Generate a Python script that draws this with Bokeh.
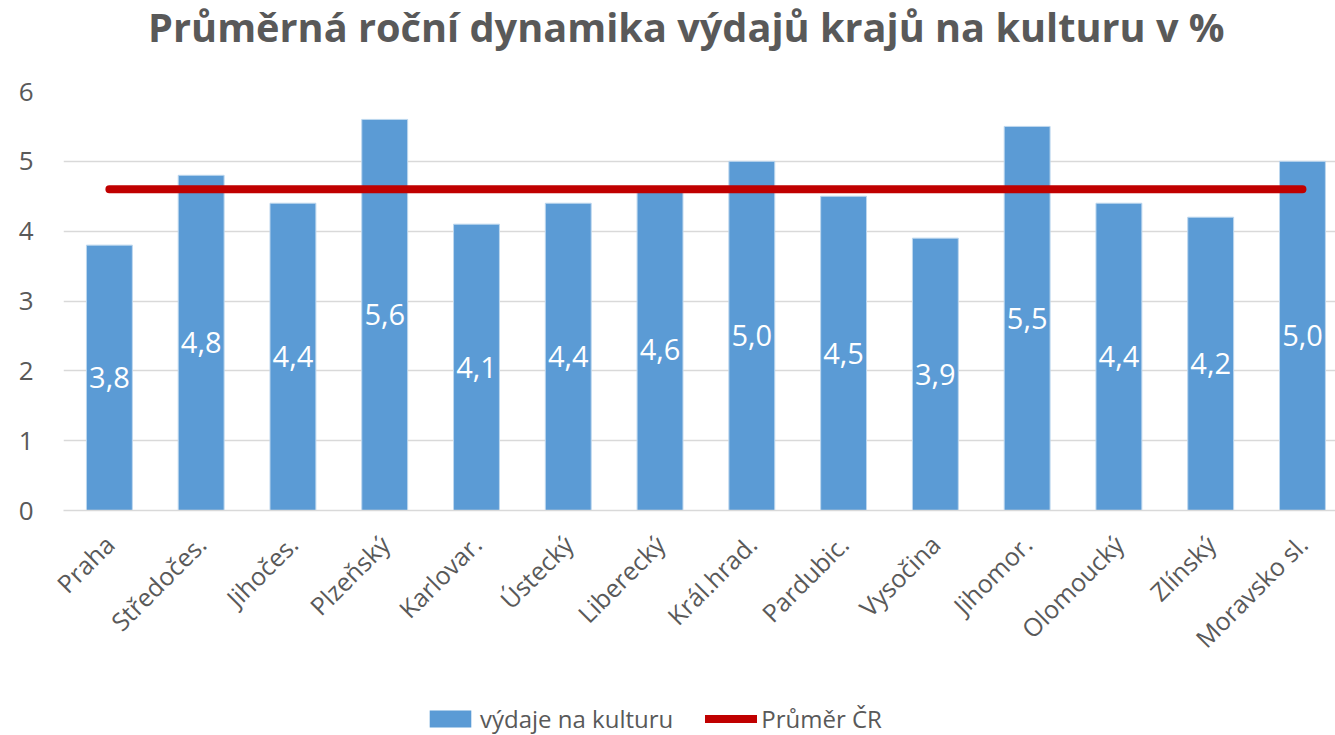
import math
from bokeh.plotting import figure
from bokeh.layouts import column
from bokeh.models import (Range1d, FixedTicker, Legend, LegendItem,
                          ColumnDataSource, LabelSet, Label)
from bokeh.core.properties import value
from bokeh.embed import file_html
from bokeh.resources import INLINE

# ---- data ----
categories = ["Praha", "Středočes.", "Jihočes.", "Plzeňský", "Karlovar.",
              "Ústecký", "Liberecký", "Král.hrad.", "Pardubic.", "Vysočina",
              "Jihomor.", "Olomoucký", "Zlínský", "Moravsko sl."]
spending = [3.8, 4.8, 4.4, 5.6, 4.1, 4.4, 4.6, 5.0, 4.5, 3.9, 5.5, 4.4, 4.2, 5.0]
average_cr = [4.6, 4.6, 4.6, 4.6, 4.6, 4.6, 4.6, 4.6, 4.6, 4.6, 4.6, 4.6, 4.6, 4.6]
y_ticks = [0, 1, 2, 3, 4, 5, 6]
title_text = "Průměrná roční dynamika  výdajů krajů na kulturu v %"
series_names = ["výdaje na kulturu", "Průměr ČR"]

FONT = "Open Sans"
GREY = "#595959"
BLUE = "#5B9BD5"
RED = "#C00000"
W = 1335
FRAME_LEFT = 63   # frames of the stacked figures are aligned to this edge


def bare(fig):
    fig.outline_line_color = None
    for g in fig.grid:
        g.visible = False
    return fig


idx = list(range(len(categories)))
src = ColumnDataSource(dict(
    x=idx,
    top=spending,
    avg=average_cr,
    mid=[v / 2 for v in spending],
    lbl=[f"{v:.1f}".replace(".", ",") for v in spending],
))

# ---- title strip ----
tfig = bare(figure(width=W, height=70, x_range=Range1d(FRAME_LEFT, W),
                   y_range=Range1d(0, 70),
                   x_axis_location=None, y_axis_location=None,
                   output_backend="svg", toolbar_location=None,
                   min_border=0))
tfig.add_layout(Label(x=691, y=44, text=title_text, text_align="center",
                      text_baseline="alphabetic", text_font=FONT,
                      text_font_style="bold", text_font_size="39.7px",
                      text_color=GREY))

# ---- main chart ----
p = figure(width=W, height=625,
           x_range=Range1d(-0.5, 13.36), y_range=Range1d(0, 6),
           output_backend="svg", toolbar_location=None,
           min_border_left=FRAME_LEFT, min_border_right=0,
           min_border_top=21, min_border_bottom=185)

p.vbar(x="x", top="top", width=0.5, source=src,
       fill_color=BLUE, line_color="#BDD7EE", line_width=1)
p.line(x="x", y="avg", source=src, line_color=RED, line_width=8,
       line_cap="round")

p.add_layout(LabelSet(x="x", y="mid", text="lbl", source=src,
                      text_align="center", text_baseline="middle",
                      text_color="white", text_font=value(FONT),
                      text_font_size="29px"))

p.yaxis.ticker = FixedTicker(ticks=y_ticks)
p.yaxis.axis_line_color = None
p.yaxis.major_tick_line_color = None
p.yaxis.minor_tick_line_color = None
p.yaxis.major_tick_out = 0
p.yaxis.major_label_text_font = FONT
p.yaxis.major_label_text_font_size = "26px"
p.yaxis.major_label_text_color = GREY
p.yaxis.major_label_standoff = 30

p.xaxis.ticker = FixedTicker(ticks=idx)
p.xaxis.major_label_overrides = {i: c for i, c in zip(idx, categories)}
p.xaxis.major_label_orientation = math.pi / 4
p.xaxis.axis_line_color = "#D9D9D9"
p.xaxis.axis_line_width = 1.5
p.xaxis.major_tick_line_color = None
p.xaxis.minor_tick_line_color = None
p.xaxis.major_tick_out = 0
p.xaxis.major_label_text_font = FONT
p.xaxis.major_label_text_font_size = "25px"
p.xaxis.major_label_text_color = GREY
p.xaxis.major_label_standoff = 29

p.xgrid.grid_line_color = None
p.ygrid.grid_line_color = "#D9D9D9"
p.ygrid.grid_line_width = 1.3
p.outline_line_color = None

# ---- legend strip (same series, view range kept off the data) ----
lfig = bare(figure(width=W, height=40, x_range=Range1d(-100, -99),
                   y_range=Range1d(-100, -99),
                   x_axis_location=None, y_axis_location=None,
                   output_backend="svg", toolbar_location=None,
                   min_border=0))
lbar = lfig.vbar(x="x", top="top", width=0.5, source=src,
                 fill_color=BLUE, line_color=None)
lline = lfig.line(x="x", y="avg", source=src, line_color=RED,
                  line_width=8, line_cap="round")
legend = Legend(items=[LegendItem(label=series_names[0], renderers=[lbar]),
                       LegendItem(label=series_names[1], renderers=[lline])],
                orientation="horizontal", location=(424 - FRAME_LEFT, 0),
                border_line_color=None, background_fill_alpha=0,
                glyph_width=52, glyph_height=21, label_standoff=4,
                spacing=32, padding=0, margin=0,
                label_text_font=FONT, label_text_font_size="24px",
                label_text_color=GREY, label_text_baseline="middle")
lfig.add_layout(legend)

layout = column(tfig, p, lfig, spacing=0)
open("out.html", "w").write(file_html(layout, INLINE))
